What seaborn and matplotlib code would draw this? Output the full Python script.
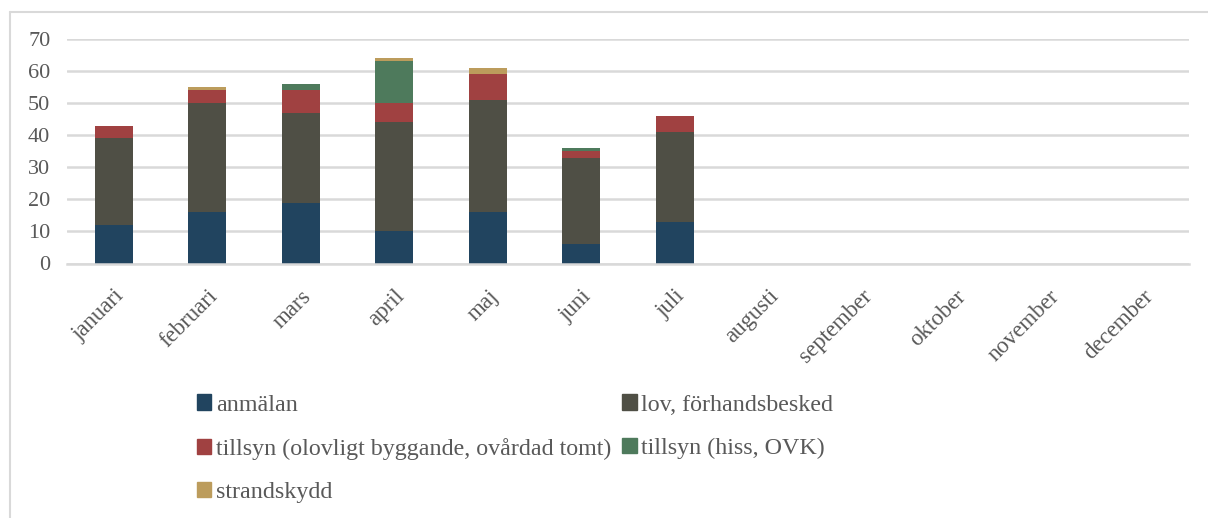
import matplotlib
matplotlib.use("Agg")
import matplotlib.pyplot as plt
import seaborn as sns
import pandas as pd
from matplotlib.patches import Patch
from matplotlib.lines import Line2D

#Data
months = ['januari', 'februari', 'mars', 'april', 'maj', 'juni', 'juli',
          'augusti', 'september', 'oktober', 'november', 'december']
anmalan = [12, 16, 19, 10, 16, 6, 13, 0, 0, 0, 0, 0]
lov = [27, 34, 28, 34, 35, 27, 28, 0, 0, 0, 0, 0]
tillsyn_olov = [4, 4, 7, 6, 8, 2, 5, 0, 0, 0, 0, 0]
tillsyn_hiss = [0, 0, 2, 13, 0, 1, 0, 0, 0, 0, 0, 0]
strandskydd = [0, 1, 0, 1, 2, 0, 0, 0, 0, 0, 0, 0]

series = ['anmälan', 'lov, förhandsbesked',
          'tillsyn (olovligt byggande, ovårdad tomt)',
          'tillsyn (hiss, OVK)', 'strandskydd']
colors = ['#21445F', '#4F4F45', '#A04141', '#4E7A5C', '#BC9C5C']

df = pd.DataFrame({
    'month': months,
    series[0]: anmalan,
    series[1]: lov,
    series[2]: tillsyn_olov,
    series[3]: tillsyn_hiss,
    series[4]: strandskydd,
})

sns.set_style('white')
plt.rcParams['font.family'] = ['Liberation Serif', 'DejaVu Serif']

fig = plt.figure(figsize=(12.08, 5.18), dpi=100)
ax = fig.add_axes([67 / 1208, 1 - 263.5 / 518, 1122 / 1208, 224.5 / 518])

bottom = [0] * len(months)
for name, col in zip(series, colors):
    sns.barplot(
        data=df,
        x='month',
        y=name,
        order=months,
        color=col,
        saturation=1,
        width=0.41,
        bottom=bottom,
        linewidth=0,
        ax=ax
    )
    bottom = [b + v for b, v in zip(bottom, df[name])]

ax.set_ylim(0, 70)
ax.set_yticks(range(0, 71, 10))
ax.set_xlim(-0.5, 11.5)
ax.set_xlabel('')
ax.set_ylabel('')
ax.yaxis.grid(True, color='#D9D9D9', linewidth=1.8)
ax.set_axisbelow(True)
for s in ['top', 'right', 'left']:
    ax.spines[s].set_visible(False)
ax.spines['bottom'].set_color('#D9D9D9')
ax.spines['bottom'].set_linewidth(1.8)
ax.tick_params(axis='y', length=0, pad=12, labelsize=16, labelcolor='#595959')
ax.tick_params(axis='x', length=0, pad=16, labelsize=16.5, labelcolor='#595959')
plt.setp(ax.get_xticklabels(), rotation=45, ha='right', rotation_mode='anchor')

#legend (reordered so it reads row by row)
handles = [Patch(color=c, label=n) for n, c in zip(series, colors)]
order = [0, 2, 4, 1, 3]
fig.legend(
    [handles[i] for i in order],
    [series[i] for i in order],
    ncol=2,
    loc='upper left',
    bbox_to_anchor=(0.155, 0.257),
    frameon=False,
    fontsize=17.3,
    labelcolor='#595959',
    handlelength=0.6,
    handleheight=0.6,
    handletextpad=0.2,
    columnspacing=0.45,
    labelspacing=0.93,
    borderaxespad=0
)

#chart frame
fig.add_artist(Line2D([10 / 1208, 10 / 1208], [0, 1 - 12 / 518], color='#D9D9D9', lw=1.5))
fig.add_artist(Line2D([10 / 1208, 1], [1 - 12 / 518, 1 - 12 / 518], color='#D9D9D9', lw=1.5))

plt.savefig('out.png', dpi=100)
